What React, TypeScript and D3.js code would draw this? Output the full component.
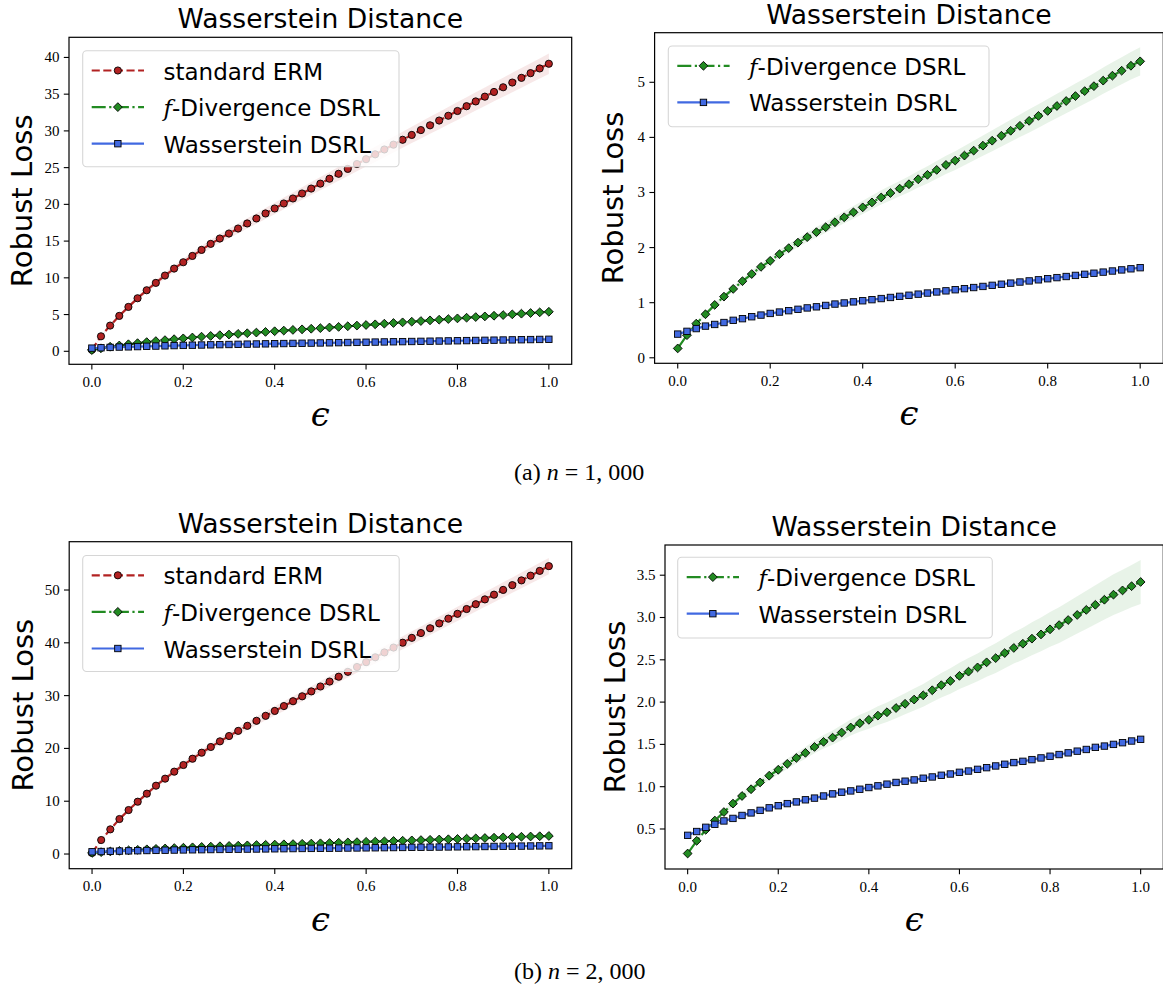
import React from "react";
import * as d3 from "d3";

// ---------------- data ----------------
const EPS = [
  0.0, 0.02, 0.04, 0.06, 0.08, 0.1, 0.12, 0.14, 0.16, 0.18, 0.2, 0.22, 0.24, 0.26, 0.28, 0.3, 0.32,
  0.34, 0.36, 0.38, 0.4, 0.42, 0.44, 0.46, 0.48, 0.5, 0.52, 0.54, 0.56, 0.58, 0.6, 0.62, 0.64, 0.66,
  0.68, 0.7, 0.72, 0.74, 0.76, 0.78, 0.8, 0.82, 0.84, 0.86, 0.88, 0.9, 0.92, 0.94, 0.96, 0.98, 1.0,
];

// n = 1,000
const ERM_N1000 = [
  0.2, 2.04, 3.5, 4.82, 6.04, 7.22, 8.31, 9.31, 10.31, 11.26, 12.12, 12.98, 13.8, 14.62, 15.35, 16.03,
  16.71, 17.4, 18.08, 18.76, 19.44, 20.12, 20.8, 21.48, 22.15, 22.82, 23.49, 24.16, 24.83, 25.49, 26.15,
  26.81, 27.47, 28.13, 28.79, 29.45, 30.11, 30.76, 31.41, 32.06, 32.71, 33.36, 34.01, 34.66, 35.3, 35.94,
  36.58, 37.22, 37.86, 38.5, 39.14,
];
const ERM_N1000_STD = [
  0.02, 0.1, 0.16, 0.21, 0.26, 0.3, 0.34, 0.38, 0.42, 0.45, 0.49, 0.52, 0.55, 0.58, 0.61, 0.64, 0.67,
  0.7, 0.72, 0.75, 0.78, 0.8, 0.83, 0.85, 0.88, 0.9, 0.92, 0.95, 0.97, 0.99, 1.01, 1.03, 1.05, 1.07, 1.09,
  1.11, 1.13, 1.15, 1.17, 1.19, 1.21, 1.23, 1.25, 1.26, 1.28, 1.3, 1.32, 1.33, 1.35, 1.37, 1.38,
];
const FDIV_N1000 = [
  0.17, 0.41, 0.62, 0.79, 0.96, 1.11, 1.25, 1.39, 1.52, 1.65, 1.76, 1.88, 1.99, 2.09, 2.19, 2.28, 2.37,
  2.46, 2.55, 2.64, 2.73, 2.82, 2.91, 2.99, 3.07, 3.15, 3.24, 3.32, 3.41, 3.5, 3.58, 3.67, 3.76, 3.85,
  3.94, 4.03, 4.12, 4.21, 4.3, 4.39, 4.48, 4.57, 4.66, 4.75, 4.84, 4.93, 5.03, 5.12, 5.21, 5.3, 5.38,
];
const FDIV_N1000_STD = [
  0.01, 0.02, 0.03, 0.035, 0.04, 0.045, 0.05, 0.055, 0.06, 0.065, 0.07, 0.075, 0.08, 0.085, 0.09, 0.095,
  0.1, 0.105, 0.11, 0.115, 0.12, 0.125, 0.13, 0.135, 0.14, 0.145, 0.15, 0.155, 0.16, 0.165, 0.17, 0.175,
  0.18, 0.185, 0.19, 0.195, 0.2, 0.205, 0.21, 0.213, 0.216, 0.22, 0.223, 0.226, 0.23, 0.234, 0.238, 0.242,
  0.246, 0.25, 0.255,
];
const WASS_N1000 = [
  0.43, 0.48, 0.53, 0.575, 0.605, 0.64, 0.68, 0.71, 0.745, 0.775, 0.805, 0.83, 0.855, 0.88, 0.905, 0.925,
  0.95, 0.975, 0.995, 1.015, 1.035, 1.055, 1.075, 1.095, 1.115, 1.135, 1.155, 1.175, 1.195, 1.215, 1.235,
  1.255, 1.275, 1.295, 1.315, 1.335, 1.355, 1.375, 1.395, 1.415, 1.435, 1.455, 1.475, 1.495, 1.515, 1.535,
  1.555, 1.575, 1.595, 1.615, 1.635,
];
const WASS_N1000_STD = [
  0.015, 0.015, 0.016, 0.016, 0.017, 0.017, 0.018, 0.018, 0.019, 0.019, 0.02, 0.02, 0.02, 0.021, 0.021,
  0.021, 0.022, 0.022, 0.022, 0.023, 0.023, 0.023, 0.024, 0.024, 0.024, 0.025, 0.025, 0.025, 0.026, 0.026,
  0.026, 0.027, 0.027, 0.027, 0.028, 0.028, 0.028, 0.029, 0.029, 0.029, 0.03, 0.03, 0.03, 0.031, 0.031,
  0.031, 0.032, 0.032, 0.032, 0.033, 0.033,
];

// n = 2,000
const ERM_N2000 = [
  0.2, 2.65, 4.67, 6.63, 8.33, 9.91, 11.43, 12.94, 14.27, 15.6, 16.86, 18.05, 19.19, 20.27, 21.34, 22.35,
  23.32, 24.28, 25.23, 26.17, 27.1, 28.02, 28.94, 29.87, 30.8, 31.73, 32.66, 33.58, 34.5, 35.42, 36.34,
  37.26, 38.18, 39.1, 40.02, 40.94, 41.85, 42.76, 43.67, 44.58, 45.49, 46.4, 47.31, 48.22, 49.12, 50.02,
  50.92, 51.82, 52.72, 53.62, 54.52,
];
const ERM_N2000_STD = [
  0.02, 0.12, 0.19, 0.25, 0.3, 0.35, 0.4, 0.44, 0.48, 0.52, 0.56, 0.6, 0.63, 0.67, 0.7, 0.73, 0.76, 0.79,
  0.82, 0.85, 0.88, 0.91, 0.94, 0.96, 0.99, 1.01, 1.04, 1.06, 1.09, 1.11, 1.13, 1.16, 1.18, 1.2, 1.22,
  1.24, 1.26, 1.28, 1.3, 1.32, 1.34, 1.36, 1.38, 1.4, 1.42, 1.44, 1.46, 1.48, 1.5, 1.52, 1.54,
];
const FDIV_N2000 = [
  0.21, 0.36, 0.49, 0.6, 0.7, 0.8, 0.89, 0.97, 1.05, 1.13, 1.2, 1.27, 1.34, 1.4, 1.47, 1.53, 1.58, 1.64,
  1.7, 1.75, 1.79, 1.84, 1.88, 1.93, 1.98, 2.03, 2.08, 2.14, 2.2, 2.25, 2.31, 2.36, 2.41, 2.47, 2.52,
  2.58, 2.64, 2.69, 2.75, 2.8, 2.86, 2.91, 2.97, 3.03, 3.09, 3.15, 3.21, 3.27, 3.32, 3.37, 3.42,
];
const FDIV_N2000_STD = [
  0.005, 0.01, 0.015, 0.02, 0.025, 0.03, 0.035, 0.04, 0.045, 0.05, 0.055, 0.06, 0.065, 0.07, 0.075, 0.08,
  0.085, 0.09, 0.095, 0.1, 0.105, 0.11, 0.115, 0.12, 0.125, 0.13, 0.135, 0.14, 0.145, 0.15, 0.155, 0.16,
  0.165, 0.17, 0.175, 0.18, 0.185, 0.19, 0.195, 0.2, 0.205, 0.21, 0.215, 0.22, 0.225, 0.23, 0.235, 0.24,
  0.245, 0.25, 0.26,
];
const WASS_N2000 = [
  0.425, 0.47, 0.52, 0.555, 0.595, 0.625, 0.66, 0.69, 0.72, 0.75, 0.775, 0.8, 0.82, 0.845, 0.865, 0.89,
  0.915, 0.935, 0.95, 0.97, 0.99, 1.01, 1.03, 1.05, 1.065, 1.08, 1.1, 1.115, 1.135, 1.15, 1.17, 1.185,
  1.205, 1.225, 1.245, 1.265, 1.285, 1.3, 1.32, 1.34, 1.36, 1.38, 1.4, 1.42, 1.44, 1.465, 1.48, 1.5, 1.52,
  1.54, 1.56,
];
const WASS_N2000_STD = [
  0.012, 0.012, 0.013, 0.013, 0.014, 0.014, 0.015, 0.015, 0.015, 0.016, 0.016, 0.016, 0.017, 0.017, 0.017,
  0.018, 0.018, 0.018, 0.019, 0.019, 0.019, 0.02, 0.02, 0.02, 0.021, 0.021, 0.021, 0.022, 0.022, 0.022,
  0.023, 0.023, 0.023, 0.024, 0.024, 0.024, 0.025, 0.025, 0.025, 0.026, 0.026, 0.026, 0.027, 0.027, 0.027,
  0.028, 0.028, 0.028, 0.029, 0.029, 0.03,
];

const X_TICKS = [0.0, 0.2, 0.4, 0.6, 0.8, 1.0];
const Y_TICKS_ERM_N1000 = [0, 5, 10, 15, 20, 25, 30, 35, 40];
const Y_TICKS_DSRL_N1000 = [0, 1, 2, 3, 4, 5];
const Y_TICKS_ERM_N2000 = [0, 10, 20, 30, 40, 50];
const Y_TICKS_DSRL_N2000 = [0.5, 1.0, 1.5, 2.0, 2.5, 3.0, 3.5];

const TITLE = "Wasserstein Distance";
const Y_LABEL = "Robust Loss";
const X_LABEL = "\u03F5";
const CAPTIONS = [
  { tag: "(a)", n: "1, 000" },
  { tag: "(b)", n: "2, 000" },
];

// ---------------- styles ----------------
const SANS = "'DejaVu Sans', sans-serif";
const SERIF = "'Liberation Serif', 'DejaVu Serif', serif";

const STYLE: Record<string, any> = {
  erm: { label: "standard ERM", color: "#b22222", dash: "8.1,3.5", marker: "circle" },
  fdiv: { prefix: "f", label: "-Divergence DSRL", color: "#228b22", dash: "14,3.5,2.2,3.5", marker: "diamond" },
  wass: { label: "Wasserstein DSRL", color: "#4169e1", dash: null, marker: "square" },
};

type Series = { key: string; y: number[]; std: number[] };

const PANELS = [
  {
    id: "tl",
    x0: 69, x1: 571.7, y0: 37.3, y1: 364.3,
    yDomain: [-1.77, 42.74], yTicks: Y_TICKS_ERM_N1000, fmt: (d: number) => String(d),
    ylabelX: 32, legendX: 82.7, legendY: 50.7, legendW: 316.3,
    series: [
      { key: "erm", y: ERM_N1000, std: ERM_N1000_STD },
      { key: "fdiv", y: FDIV_N1000, std: FDIV_N1000_STD },
      { key: "wass", y: WASS_N1000, std: WASS_N1000_STD },
    ],
  },
  {
    id: "tr",
    x0: 654.6, x1: 1163.3, y0: 32.7, y1: 363.3,
    yDomain: [-0.1, 5.9], yTicks: Y_TICKS_DSRL_N1000, fmt: (d: number) => String(d),
    ylabelX: 623, legendX: 668.3, legendY: 46, legendW: 320.7,
    series: [
      { key: "fdiv", y: FDIV_N1000, std: FDIV_N1000_STD },
      { key: "wass", y: WASS_N1000, std: WASS_N1000_STD },
    ],
  },
  {
    id: "bl",
    x0: 69.2, x1: 571.7, y0: 541.7, y1: 868.7,
    yDomain: [-2.78, 59.15], yTicks: Y_TICKS_ERM_N2000, fmt: (d: number) => String(d),
    ylabelX: 33, legendX: 82.7, legendY: 555.5, legendW: 316.5,
    series: [
      { key: "erm", y: ERM_N2000, std: ERM_N2000_STD },
      { key: "fdiv", y: FDIV_N2000, std: FDIV_N2000_STD },
      { key: "wass", y: WASS_N2000, std: WASS_N2000_STD },
    ],
  },
  {
    id: "br",
    x0: 665, x1: 1163.3, y0: 545, y1: 869,
    yDomain: [0.027, 3.857], yTicks: Y_TICKS_DSRL_N2000, fmt: d3.format(".1f"),
    ylabelX: 625, legendX: 677.7, legendY: 557.3, legendW: 314.6,
    series: [
      { key: "fdiv", y: FDIV_N2000, std: FDIV_N2000_STD },
      { key: "wass", y: WASS_N2000, std: WASS_N2000_STD },
    ],
  },
];

function Marker({ type, x, y, color }: { type: string; x: number; y: number; color: string }) {
  if (type === "circle") {
    return <circle cx={x} cy={y} r={3.6} fill={color} stroke="#000" strokeWidth={0.9} />;
  }
  if (type === "square") {
    const s = 6.4;
    return <rect x={x - s / 2} y={y - s / 2} width={s} height={s} fill={color} stroke="#000" strokeWidth={0.9} />;
  }
  const r = 4.4;
  return (
    <path
      d={`M${x},${y - r}L${x + r},${y}L${x},${y + r}L${x - r},${y}Z`}
      fill={color}
      stroke="#000"
      strokeWidth={0.9}
    />
  );
}

function Panel({ p }: { p: any }) {
  const xs = d3.scaleLinear().domain([-0.05, 1.05]).range([p.x0, p.x1]);
  const ys = d3.scaleLinear().domain(p.yDomain).range([p.y1, p.y0]);
  const cx = (p.x0 + p.x1) / 2;
  const cy = (p.y0 + p.y1) / 2;
  const clipId = `clip-${p.id}`;

  const line = d3
    .line<number>()
    .x((_, i) => xs(EPS[i]))
    .y((d) => ys(d));

  const rowH = 36.6;
  const legendH = p.series.length === 3 ? 116 : 80.7;

  return (
    <g>
      <defs>
        <clipPath id={clipId}>
          <rect x={p.x0} y={p.y0} width={p.x1 - p.x0} height={p.y1 - p.y0} />
        </clipPath>
      </defs>
      <g clipPath={`url(#${clipId})`}>
        {p.series.map((s: Series) => {
          const st = STYLE[s.key];
          const area = d3
            .area<number>()
            .x((_, i) => xs(EPS[i]))
            .y0((d, i) => ys(d - s.std[i]))
            .y1((d, i) => ys(d + s.std[i]));
          return (
            <g key={s.key}>
              <path d={area(s.y) || ""} fill={st.color} fillOpacity={0.1} stroke="none" />
              <path
                d={line(s.y) || ""}
                fill="none"
                stroke={st.color}
                strokeWidth={2.2}
                strokeDasharray={st.dash || undefined}
              />
              {s.y.map((v, i) => (
                <Marker key={i} type={st.marker} x={xs(EPS[i])} y={ys(v)} color={st.color} />
              ))}
            </g>
          );
        })}
      </g>

      {/* frame */}
      <rect x={p.x0} y={p.y0} width={p.x1 - p.x0} height={p.y1 - p.y0} fill="none" stroke="#000" strokeWidth={1.2} />

      {/* x ticks */}
      {X_TICKS.map((t) => (
        <g key={`x${t}`}>
          <line x1={xs(t)} x2={xs(t)} y1={p.y1} y2={p.y1 + 5.2} stroke="#000" strokeWidth={1.1} />
          <text x={xs(t)} y={p.y1 + 22.5} textAnchor="middle" fontFamily={SERIF} fontSize={15} fill="#000">
            {d3.format(".1f")(t)}
          </text>
        </g>
      ))}
      {/* y ticks */}
      {p.yTicks.map((t: number) => (
        <g key={`y${t}`}>
          <line x1={p.x0 - 5.2} x2={p.x0} y1={ys(t)} y2={ys(t)} stroke="#000" strokeWidth={1.1} />
          <text x={p.x0 - 9.5} y={ys(t) + 5} textAnchor="end" fontFamily={SERIF} fontSize={15} fill="#000">
            {p.fmt(t)}
          </text>
        </g>
      ))}

      {/* title */}
      <text x={cx} y={p.y0 - 9} textAnchor="middle" fontFamily={SANS} fontSize={26.6} fill="#000">
        {TITLE}
      </text>
      {/* y label */}
      <text
        transform={`translate(${p.ylabelX},${cy}) rotate(-90)`}
        textAnchor="middle"
        fontFamily={SANS}
        fontSize={29}
        fill="#000"
      >
        {Y_LABEL}
      </text>
      {/* x label */}
      <text x={cx} y={p.y1 + 62} textAnchor="middle" fontFamily="'DejaVu Serif', serif" fontStyle="italic" fontSize={34} fill="#000">
        {X_LABEL}
      </text>

      {/* legend */}
      <g>
        <rect
          x={p.legendX}
          y={p.legendY}
          width={p.legendW}
          height={legendH}
          rx={4}
          ry={4}
          fill="#fff"
          fillOpacity={0.8}
          stroke="#d6d6d6"
          strokeWidth={1.1}
        />
        {p.series.map((s: Series, i: number) => {
          const st = STYLE[s.key];
          const ry = p.legendY + 19.8 + rowH * i;
          const lx0 = p.legendX + 9;
          const lx1 = p.legendX + 61.3;
          return (
            <g key={`lg${s.key}`}>
              <line
                x1={lx0}
                x2={lx1}
                y1={ry}
                y2={ry}
                stroke={st.color}
                strokeWidth={2.2}
                strokeDasharray={st.dash || undefined}
              />
              <Marker type={st.marker} x={(lx0 + lx1) / 2} y={ry} color={st.color} />
              <text x={p.legendX + 80.8} y={ry + 9} fontFamily={SANS} fontSize={23} fill="#000">
                {st.prefix ? (
                  <tspan fontFamily="'DejaVu Serif', serif" fontStyle="italic">
                    {st.prefix}
                  </tspan>
                ) : null}
                <tspan>{st.label}</tspan>
              </text>
            </g>
          );
        })}
      </g>
    </g>
  );
}

export default function App() {
  return (
    <svg
      width={1163}
      height={992}
      viewBox="0 0 1163 992"
      style={{ position: "absolute", left: 0, top: 0, background: "#fff" }}
    >
      <rect x={0} y={0} width={1163} height={992} fill="#fff" />
      {PANELS.map((p) => (
        <Panel key={p.id} p={p} />
      ))}
      {CAPTIONS.map((c, i) => (
        <text key={c.tag} x={514} y={i === 0 ? 480 : 979} fontFamily={SERIF} fontSize={24} fill="#000">
          {c.tag}{" "}
          <tspan fontStyle="italic">n</tspan>
          {" = "}
          {c.n}
        </text>
      ))}
    </svg>
  );
}
